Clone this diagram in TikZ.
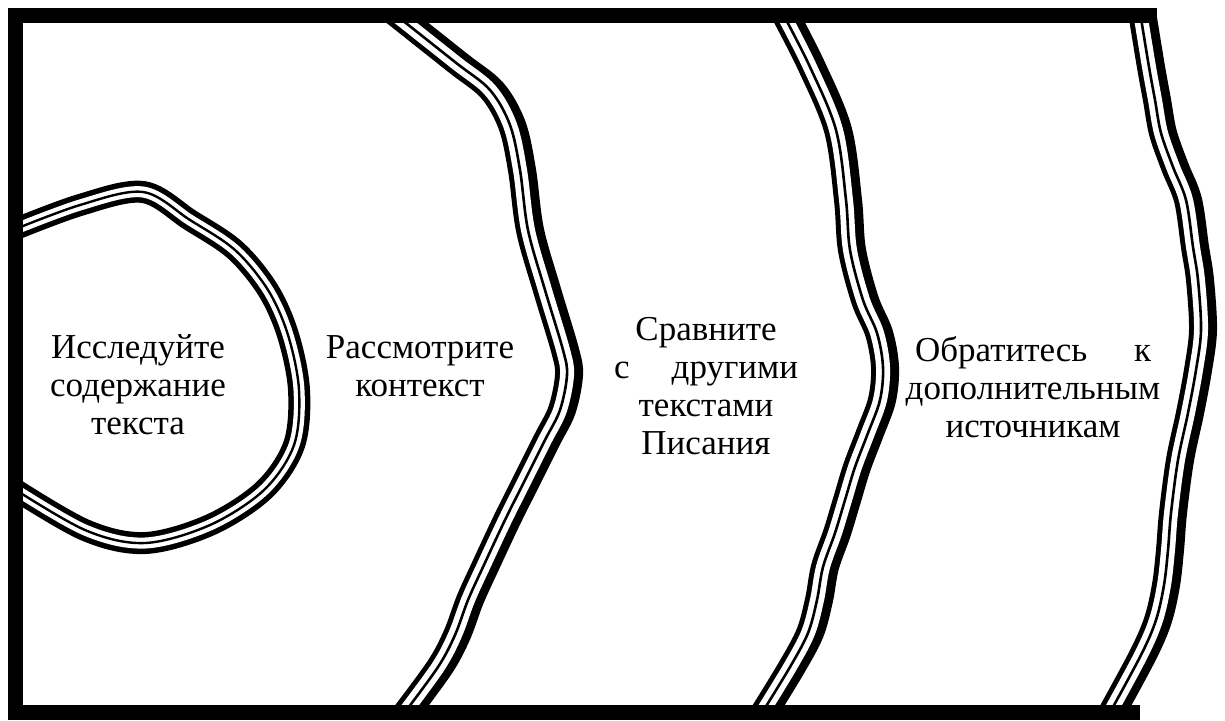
\documentclass[tikz,border=0pt]{standalone}
\usepackage{fontspec}
\setmainfont{Liberation Serif}
\begin{document}
\begin{tikzpicture}[x=0.5pt,y=-0.5pt,
  band/.style={line width=12pt,line cap=butt,line join=round,
    preaction={draw,line width=11pt,transform canvas={xshift=2.5pt}},
    postaction={draw,white,line width=7pt},
    postaction={draw,black,line width=1.3pt}},
  ring/.style={line width=11pt,line cap=butt,line join=round,
    postaction={draw,white,line width=5.5pt},
    postaction={draw,black,line width=1.2pt}},
  blocktext/.style={align=center,font=\fontsize{17.5}{19}\selectfont}]
\useasboundingbox (0,0) rectangle (1225,720);
\begin{scope}
\clip (8,8) rectangle (1225,719);
\draw[ring] plot[smooth,tension=0.55] coordinates {(8,232) (80,205) (143,192) (190,220) (235,250) (268,290) (288,335) (299,390) (294,445) (264,490) (210,525) (145,543) (85,530) (8,485)};
\draw[band] plot[smooth,tension=0.55] coordinates {(392,12) (455,62) (490,90) (510,125) (520,170) (528,230) (545,290) (563,350) (567,375) (560,410) (545,440) (525,480) (505,520) (483,567) (468,600) (455,635) (438,667) (402,716)};
\draw[band] plot[smooth,tension=0.55] coordinates {(782,12) (810,67) (836,130) (846,200) (850,250) (863,300) (877,333) (883,367) (880,400) (868,433) (855,467) (845,500) (835,533) (823,567) (817,600) (808,633) (790,667) (760,716)};
\draw[band] plot[smooth,tension=0.55] coordinates {(1140,12) (1149,67) (1155,100) (1161,133) (1173,167) (1186,200) (1193,247) (1198,280) (1201,330) (1196,370) (1188,413) (1178,460) (1171,513) (1168,550) (1164,585) (1156,620) (1141,655) (1108,716)};
\end{scope}
\draw[line width=7.5pt,line join=miter] (1157,15) -- (15,15) -- (15,712) -- (1140,712);
\node[blocktext] (examine) at (138,385) {Исследуйте\\содержание\\текста};
\node[blocktext] (context) at (420,366) {Рассмотрите\\контекст};
\node[blocktext] (compare) at (706,386) {Сравните\\\makebox[92pt][s]{с\hfill другими}\\текстами\\Писания};
\node[blocktext] (sources) at (1033,387) {\makebox[118pt][s]{Обратитесь\hfill к}\\дополнительным\\источникам};
\end{tikzpicture}
\end{document}
